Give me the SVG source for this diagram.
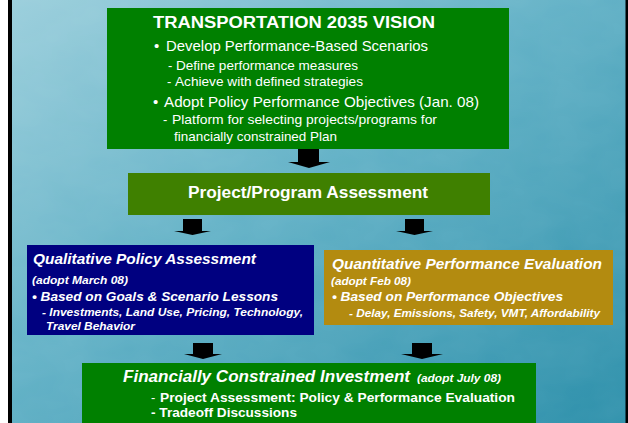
<svg xmlns="http://www.w3.org/2000/svg" width="628" height="423" viewBox="0 0 628 423">
  <defs>
    <linearGradient id="bg" x1="0" y1="0" x2="1" y2="1">
      <stop offset="0" stop-color="#9ccfdc"/>
      <stop offset="0.45" stop-color="#62b1c6"/>
      <stop offset="1" stop-color="#2a8ea9"/>
    </linearGradient>
    <filter id="tex" x="0" y="0" width="100%" height="100%">
      <feTurbulence type="fractalNoise" baseFrequency="0.02 0.035" numOctaves="3" seed="4"/>
      <feColorMatrix type="matrix" values="0 0 0 0 0.75  0 0 0 0 0.9  0 0 0 0 0.95  0 0 0 0.09 0"/>
    </filter>
  </defs>
  <style>
    text { font-family: "Liberation Sans", Arial, sans-serif; fill: #ffffff; }
    .b { font-weight: bold; }
    .bi { font-weight: bold; font-style: italic; }
    .arrow { fill: #000000; }
  </style>

  <rect x="0" y="0" width="628" height="423" fill="url(#bg)"/>
  <rect x="0" y="0" width="628" height="423" filter="url(#tex)"/>
  <rect x="0" y="0" width="8" height="423" fill="#ffffff"/>
  <rect x="8" y="0" width="4" height="423" fill="#000000"/>
  <rect x="625.5" y="0" width="2.5" height="423" fill="#000000"/>

  <g id="vision">
    <rect x="107" y="8" width="402" height="141" fill="#008000"/>
    <text class="b" x="153" y="28" font-size="16" textLength="282" lengthAdjust="spacingAndGlyphs">TRANSPORTATION 2035 VISION</text>
    <text x="154" y="51" font-size="15">•</text>
    <text x="166" y="51" font-size="15" textLength="262" lengthAdjust="spacingAndGlyphs">Develop Performance-Based Scenarios</text>
    <text x="168" y="70" font-size="13">-</text>
    <text x="176" y="70" font-size="13" textLength="182" lengthAdjust="spacingAndGlyphs">Define performance measures</text>
    <text x="167" y="86" font-size="13">-</text>
    <text x="175" y="86" font-size="13" textLength="188" lengthAdjust="spacingAndGlyphs">Achieve with defined strategies</text>
    <text x="153" y="107" font-size="15">•</text>
    <text x="164" y="107" font-size="15" textLength="315" lengthAdjust="spacingAndGlyphs">Adopt Policy Performance Objectives (Jan. 08)</text>
    <text x="163" y="124" font-size="13">-</text>
    <text x="172" y="124" font-size="13" textLength="265" lengthAdjust="spacingAndGlyphs">Platform for selecting projects/programs for</text>
    <text x="174" y="141" font-size="13" textLength="163" lengthAdjust="spacingAndGlyphs">financially constrained Plan</text>
  </g>

  <g id="assessment">
    <rect x="128" y="173" width="362" height="42" fill="#3f8000"/>
    <text class="b" x="188" y="198" font-size="16" textLength="240" lengthAdjust="spacingAndGlyphs">Project/Program Assessment</text>
  </g>

  <g id="qualitative">
    <rect x="27" y="245" width="287" height="90" fill="#000080"/>
    <text class="bi" x="33" y="264" font-size="15" textLength="223" lengthAdjust="spacingAndGlyphs">Qualitative Policy Assessment</text>
    <text class="bi" x="32" y="284" font-size="11" textLength="96" lengthAdjust="spacingAndGlyphs">(adopt March 08)</text>
    <text class="bi" x="32" y="301" font-size="13.5" textLength="246" lengthAdjust="spacingAndGlyphs">• Based on Goals &amp; Scenario Lessons</text>
    <text class="bi" x="42" y="316" font-size="11" textLength="261" lengthAdjust="spacingAndGlyphs">- Investments, Land Use, Pricing, Technology,</text>
    <text class="bi" x="46" y="330" font-size="11" textLength="89" lengthAdjust="spacingAndGlyphs">Travel Behavior</text>
  </g>

  <g id="quantitative">
    <rect x="324" y="250" width="289" height="75" fill="#b38b10"/>
    <text class="bi" x="332" y="269" font-size="15" textLength="270" lengthAdjust="spacingAndGlyphs">Quantitative Performance Evaluation</text>
    <text class="bi" x="331" y="285" font-size="11" textLength="80" lengthAdjust="spacingAndGlyphs">(adopt Feb 08)</text>
    <text class="bi" x="332" y="301" font-size="13.5" textLength="231" lengthAdjust="spacingAndGlyphs">• Based on Performance Objectives</text>
    <text class="bi" x="349" y="317" font-size="11" textLength="251" lengthAdjust="spacingAndGlyphs">- Delay, Emissions, Safety, VMT, Affordability</text>
  </g>

  <g id="investment">
    <rect x="82" y="363" width="454" height="62" fill="#008000"/>
    <text class="bi" x="123" y="382" font-size="16" textLength="287" lengthAdjust="spacingAndGlyphs">Financially Constrained Investment</text>
    <text class="bi" x="417" y="382" font-size="11" textLength="84" lengthAdjust="spacingAndGlyphs">(adopt July 08)</text>
    <text x="151" y="402" font-size="13">-</text>
    <text class="b" x="160" y="402" font-size="13" textLength="355" lengthAdjust="spacingAndGlyphs">Project Assessment: Policy &amp; Performance Evaluation</text>
    <text class="b" x="151" y="417" font-size="13" textLength="146" lengthAdjust="spacingAndGlyphs">- Tradeoff Discussions</text>
  </g>

  <g id="connectors">
    <path class="arrow" d="M298,149 L319,149 L319,162 L330,162 L309,168 L288,162 L298,162 Z"/>
    <path class="arrow" d="M183,219 L202,219 L202,231 L211,231 L192.5,235 L174,231 L183,231 Z"/>
    <path class="arrow" d="M405,219 L424,219 L424,231 L433,231 L414.5,235 L396,231 L405,231 Z"/>
    <path class="arrow" d="M193,343 L213,343 L213,354 L222,354 L203,359 L184,354 L193,354 Z"/>
    <path class="arrow" d="M412,343 L432,343 L432,354 L443,354 L422,359 L401,354 L412,354 Z"/>
  </g>
</svg>
